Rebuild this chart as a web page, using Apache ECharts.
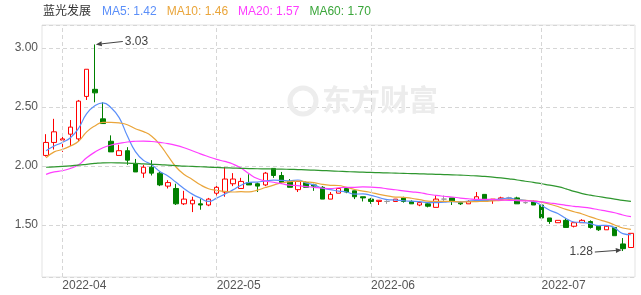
<!DOCTYPE html>
<html><head><meta charset="utf-8">
<script src="https://cdn.jsdelivr.net/npm/echarts@6/dist/echarts.min.js"></script>
<style>html,body{margin:0;padding:0;background:#fff}#c{width:641px;height:295px}</style>
</head><body><div id="c"></div>
<script>
const stockName = '蓝光发展';
const dates = [
 '2022-03-30','2022-03-31',
 '2022-04-01','2022-04-06','2022-04-07','2022-04-08','2022-04-11','2022-04-12','2022-04-13','2022-04-14','2022-04-15',
 '2022-04-18','2022-04-19','2022-04-20','2022-04-21','2022-04-22','2022-04-25','2022-04-26','2022-04-27','2022-04-28','2022-04-29',
 '2022-05-05','2022-05-06','2022-05-09','2022-05-10','2022-05-11','2022-05-12','2022-05-13','2022-05-16','2022-05-17','2022-05-18',
 '2022-05-19','2022-05-20','2022-05-23','2022-05-24','2022-05-25','2022-05-26','2022-05-27','2022-05-30','2022-05-31',
 '2022-06-01','2022-06-02','2022-06-06','2022-06-07','2022-06-08','2022-06-09','2022-06-10','2022-06-13','2022-06-14','2022-06-15',
 '2022-06-16','2022-06-17','2022-06-20','2022-06-21','2022-06-22','2022-06-23','2022-06-24','2022-06-27','2022-06-28','2022-06-29','2022-06-30',
 '2022-07-01','2022-07-04','2022-07-05','2022-07-06','2022-07-07','2022-07-08','2022-07-11','2022-07-12','2022-07-13','2022-07-14','2022-07-15','2022-07-18'
];
const openP = [2.09,2.20,2.22,2.27,2.23,2.59,2.65,2.40,2.21,2.09,2.13,2.02,1.94,1.99,1.94,1.83,1.81,1.68,1.68,1.68,1.67,
 1.77,1.78,1.85,1.81,1.86,1.85,1.84,1.98,1.92,1.87,1.80,1.86,1.84,1.82,1.72,1.77,1.81,1.79,1.74,
 1.72,1.70,1.70,1.70,1.73,1.70,1.67,1.68,1.65,1.72,1.73,1.69,1.68,1.71,1.76,1.71,1.72,1.73,1.73,1.69,1.70,
 1.67,1.56,1.52,1.54,1.49,1.52,1.53,1.49,1.46,1.48,1.34,1.31];
const closeP = [2.20,2.29,2.23,2.33,2.55,2.82,2.62,2.36,2.12,2.13,2.05,1.95,1.99,1.94,1.84,1.86,1.68,1.72,1.71,1.67,1.72,
 1.82,1.89,1.89,1.87,1.84,1.83,1.94,1.92,1.86,1.82,1.87,1.82,1.83,1.72,1.76,1.81,1.78,1.74,1.73,
 1.70,1.71,1.70,1.72,1.70,1.68,1.69,1.66,1.72,1.72,1.70,1.68,1.70,1.74,1.72,1.72,1.73,1.73,1.68,1.69,1.67,
 1.56,1.53,1.54,1.48,1.52,1.54,1.48,1.46,1.49,1.41,1.30,1.43];
const lowP = [2.08,2.14,2.12,2.17,2.21,2.56,2.54,2.36,2.12,2.09,2.01,1.95,1.90,1.92,1.83,1.81,1.67,1.67,1.61,1.63,1.66,
 1.75,1.74,1.83,1.81,1.84,1.78,1.83,1.90,1.85,1.82,1.78,1.82,1.79,1.72,1.72,1.77,1.77,1.72,1.70,
 1.68,1.67,1.68,1.70,1.69,1.68,1.66,1.65,1.65,1.70,1.67,1.67,1.68,1.71,1.72,1.68,1.72,1.72,1.68,1.68,1.67,
 1.55,1.51,1.52,1.48,1.48,1.52,1.47,1.45,1.46,1.41,1.28,1.31];
const highP = [2.27,2.40,2.27,2.39,2.56,2.82,3.03,2.54,2.26,2.18,2.16,2.06,2.01,2.05,1.95,1.88,1.85,1.79,1.74,1.72,1.73,
 1.86,1.99,1.94,1.90,1.93,1.86,1.95,1.98,1.95,1.89,1.87,1.87,1.85,1.83,1.78,1.81,1.82,1.79,1.74,
 1.73,1.71,1.71,1.72,1.74,1.71,1.70,1.69,1.75,1.75,1.73,1.70,1.71,1.78,1.76,1.72,1.74,1.74,1.74,1.70,1.71,
 1.67,1.56,1.54,1.56,1.52,1.55,1.54,1.49,1.50,1.48,1.39,1.43];
const ma5 = [2.13,2.17,2.20,2.24,2.32,2.444,2.51,2.536,2.494,2.41,2.256,2.122,2.048,2.012,1.954,1.916,1.862,1.808,1.762,1.728,1.70,
 1.728,1.762,1.798,1.838,1.862,1.864,1.874,1.88,1.878,1.874,1.882,1.858,1.84,1.812,1.80,1.788,1.78,1.762,1.764,
 1.752,1.732,1.716,1.712,1.706,1.702,1.698,1.69,1.69,1.694,1.698,1.696,1.704,1.708,1.708,1.712,1.722,1.728,1.716,1.71,1.70,
 1.666,1.626,1.598,1.556,1.526,1.522,1.512,1.496,1.498,1.476,1.428,1.418];
const ma10 = [2.07,2.12,2.14,2.17,2.21,2.29,2.34,2.37,2.37,2.365,2.35,2.316,2.292,2.253,2.182,2.086,1.992,1.928,1.887,1.841,1.808,
 1.795,1.785,1.78,1.783,1.781,1.796,1.818,1.839,1.858,1.868,1.873,1.866,1.86,1.845,1.837,1.835,1.819,1.801,1.788,
 1.776,1.76,1.748,1.737,1.735,1.727,1.715,1.703,1.701,1.70,1.70,1.697,1.697,1.699,1.701,1.705,1.709,1.716,1.712,1.709,1.706,
 1.694,1.677,1.657,1.633,1.613,1.594,1.569,1.547,1.527,1.501,1.475,1.464];
const ma20 = [1.93,1.95,1.96,1.98,2.01,2.07,2.118,2.155,2.178,2.192,2.204,2.21,2.212,2.208,2.20,2.19,2.175,2.155,2.13,2.103,2.079,
 2.056,2.039,2.017,1.983,1.934,1.894,1.873,1.863,1.85,1.838,1.834,1.826,1.82,1.814,1.809,1.816,1.819,1.82,1.823,
 1.822,1.817,1.807,1.799,1.79,1.782,1.775,1.761,1.751,1.744,1.738,1.729,1.723,1.718,1.718,1.716,1.712,1.71,1.707,1.705,1.703,
 1.696,1.687,1.678,1.667,1.659,1.652,1.643,1.63,1.618,1.604,1.585,1.571];
const ma60 = [1.990,1.993,1.997,2.002,2.008,2.015,2.022,2.027,2.028,2.027,2.025,2.022,2.018,2.015,2.012,2.008,2.004,2.000,1.997,1.994,1.991,
 1.988,1.985,1.983,1.981,1.979,1.977,1.976,1.975,1.974,1.972,1.970,1.968,1.965,1.962,1.959,1.956,1.953,1.950,1.948,
 1.946,1.944,1.942,1.940,1.938,1.936,1.934,1.932,1.930,1.928,1.926,1.923,1.920,1.916,1.912,1.906,1.899,1.891,1.882,1.871,1.862,
 1.850,1.838,1.825,1.807,1.785,1.767,1.753,1.742,1.731,1.720,1.709,1.700];
const maNames = ['MA5','MA10','MA20','MA60'];
const maSeries = [ma5, ma10, ma20, ma60];

const FONT = 'Arial, "Liberation Sans", "Noto Sans CJK SC", sans-serif';
const UP = '#ff0000', DOWN = '#008000', FLAT = '#999999';
const maColors = ['#5b8ff9', '#eaa53a', '#ff3dff', '#2e962e'];
const legendColors = ['#5b8ff9', '#eaa53a', '#ff3dff', '#3aa63a'];

const candleData = dates.map((d, i) => {
  const item = { value: [openP[i], closeP[i], lowP[i], highP[i]] };
  if (openP[i] === closeP[i]) item.itemStyle = { color: FLAT, color0: FLAT, borderColor: FLAT, borderColor0: FLAT };
  return item;
});
const monthStart = dates.map((d, i) => i > 0 && d.slice(0, 7) !== dates[i - 1].slice(0, 7));
const monthIdx = dates.map((d, i) => i).filter(i => monthStart[i]);

const rich = { n: { color: '#333', fontSize: 12, fontWeight: 'normal', fontFamily: FONT, padding: [0, 11, 0, 0] } };
let titleText = '{n|' + stockName + '}';
maNames.forEach((nm, k) => {
  rich['m' + k] = { color: legendColors[k], fontSize: 12, fontWeight: 'normal', fontFamily: FONT, padding: [0, k < 3 ? 10 : 0, 0, 0] };
  titleText += '{m' + k + '|' + nm + ': ' + maSeries[k][maSeries[k].length - 1].toFixed(2) + '}';
});

const chart = echarts.init(document.getElementById('c'), null, { renderer: 'canvas' });
chart.setOption({
  animation: false,
  backgroundColor: '#fff',
  title: { text: titleText, left: 43, top: 6, padding: 0, textStyle: { fontWeight: 'normal', fontSize: 12, rich: rich } },
  grid: { left: 42, right: 6, top: 25, bottom: 18, show: true, borderColor: '#e3e3e3', borderWidth: 1 },
  xAxis: {
    type: 'category', data: dates, boundaryGap: true,
    axisLine: { show: false }, axisTick: { show: false }, splitLine: { show: false },
    axisLabel: { interval: (i) => monthStart[i], formatter: v => v.slice(0, 7), align: 'left',
      color: '#555', fontSize: 12, fontFamily: FONT, margin: 3 }
  },
  yAxis: {
    type: 'value', min: 1.06, max: 3.195, splitNumber: 4,
    axisLine: { show: false }, axisTick: { show: false },
    axisLabel: { formatter: v => v.toFixed(2), color: '#555', fontSize: 12, fontFamily: FONT, margin: 4,
      showMinLabel: false, showMaxLabel: false },
    splitLine: { lineStyle: { color: '#d6d6d6', type: [4, 3], width: 1 } }
  },
  series: [
    {
      type: 'candlestick', data: candleData, barWidth: 5, z: 2,
      itemStyle: { color: '#ffffff', color0: DOWN, borderColor: UP, borderColor0: DOWN, borderWidth: 1 },
      markLine: {
        silent: true, symbol: ['none', 'none'], label: { show: false },
        lineStyle: { color: '#d6d6d6', type: [4, 3], width: 1 },
        data: monthIdx.map(i => ({ xAxis: dates[i] }))
      }
    }
  ].concat(maSeries.map((arr, k) => ({
    type: 'line', name: maNames[k], data: arr, smooth: true, showSymbol: false, z: 3,
    lineStyle: { width: 1.2, color: maColors[k] }, itemStyle: { color: maColors[k] }
  })))
});

function arrow(x1, y1, x2, y2) {
  const ang = Math.atan2(y2 - y1, x2 - x1), L = 6, W = 2.5;
  const bx = x2 - L * Math.cos(ang), by = y2 - L * Math.sin(ang);
  const px = -Math.sin(ang) * W, py = Math.cos(ang) * W;
  return [
    { type: 'line', silent: true, shape: { x1: x1, y1: y1, x2: bx, y2: by }, style: { stroke: '#444', lineWidth: 1 } },
    { type: 'polygon', silent: true, shape: { points: [[x2, y2], [bx + px, by + py], [bx - px, by - py]] }, style: { fill: '#444' } }
  ];
}
const hiIdx = highP.indexOf(Math.max(...highP));
const loIdx = lowP.indexOf(Math.min(...lowP));
const pHi = chart.convertToPixel({ gridIndex: 0 }, [hiIdx, highP[hiIdx]]);
const pLo = chart.convertToPixel({ gridIndex: 0 }, [loIdx, lowP[loIdx]]);
const g = [];
g.push({ type: 'circle', silent: true, z: 0, shape: { cx: 303, cy: 101, r: 13 }, style: { fill: 'none', stroke: '#ededed', lineWidth: 5 } });
g.push({ type: 'text', silent: true, z: 0, left: 322, top: 85,
  style: { text: '东方财富', fill: '#ececec', fontSize: 29, fontWeight: 'bold', fontFamily: '"Noto Sans CJK SC", sans-serif' } });
arrow(pHi[0] + 28, pHi[1] - 3, pHi[0] + 1, pHi[1]).forEach(e => g.push(e));
g.push({ type: 'text', silent: true, x: pHi[0] + 30, y: pHi[1] - 2.5,
  style: { text: highP[hiIdx].toFixed(2), fill: '#444', fontSize: 12, fontFamily: FONT, align: 'left', verticalAlign: 'middle' } });
arrow(pLo[0] - 28, pLo[1] + 1, pLo[0] - 1, pLo[1] - 1).forEach(e => g.push(e));
g.push({ type: 'text', silent: true, x: pLo[0] - 30, y: pLo[1] + 1,
  style: { text: lowP[loIdx].toFixed(2), fill: '#444', fontSize: 12, fontFamily: FONT, align: 'right', verticalAlign: 'middle' } });
chart.setOption({ graphic: g });
</script></body></html>
